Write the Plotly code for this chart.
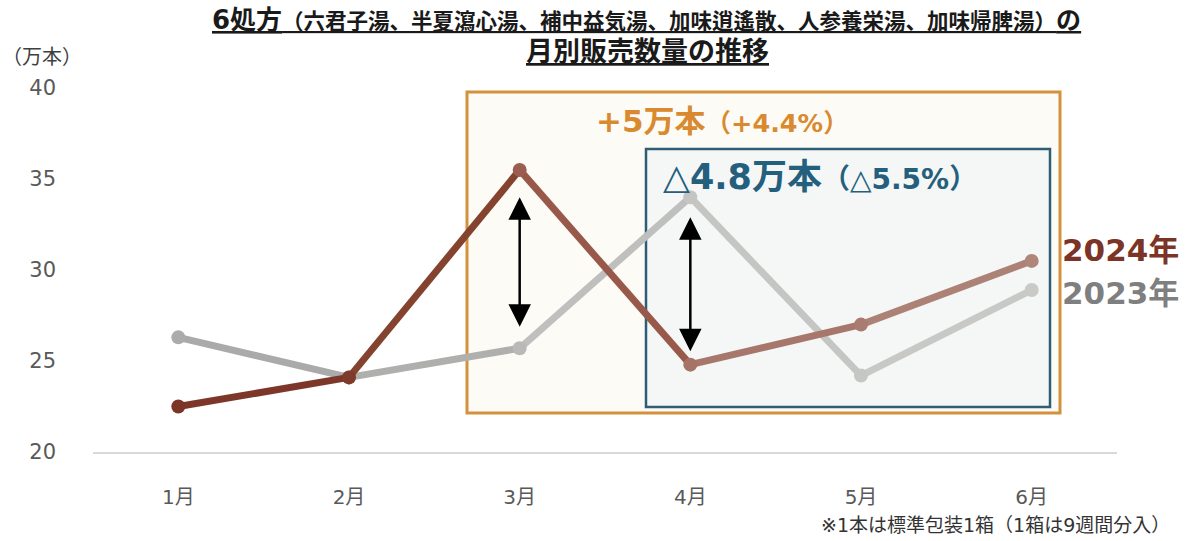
import plotly.graph_objects as go

months = ["1月", "2月", "3月", "4月", "5月", "6月"]
sales_2024 = [22.5, 24.1, 35.5, 24.8, 27.0, 30.5]
sales_2023 = [26.3, 24.1, 25.7, 34.0, 24.2, 28.9]
y_ticks = [20, 25, 30, 35, 40]

# colour shading along each series (darker on the left, lighter on the right)
col_2024_pts = ["#7B3426", "#7E3A2B", "#9A5D4F", "#A67367", "#AA7B70", "#B0867B"]
col_2024_seg = ["#7D3729", "#84432F", "#98594B", "#A7776B", "#AD8276"]
col_2023_pts = ["#ABABAB", "#A9A9A9", "#B9B9B7", "#C4C4C2", "#C6C6C4", "#C9C9C7"]
col_2023_seg = ["#AAAAAA", "#AFAFAE", "#BFBFBD", "#C5C5C3", "#C8C8C6"]

# arrow spans (data units) for the two year-on-year difference markers
arrow_idx = [2, 3]
arrow_top = [34.0, 32.9]
arrow_bot = [26.8, 25.45]

FONT = "DejaVu Sans, Noto Sans CJK JP, sans-serif"

L, R, T, B = 93, 1117, 88, 452
W, H = 1189, 541


def px(xp):
    return (xp - L) / (R - L)


def py(yp):
    return (B - yp) / (B - T)


def dx(xp):
    return (xp - L) / ((R - L) / 6.0) - 0.5


def dy(yp):
    return 20 + (B - yp) / ((B - T) / 20.0)


fig = go.Figure()

for name, vals, segc, ptc in [("2023年", sales_2023, col_2023_seg, col_2023_pts),
                               ("2024年", sales_2024, col_2024_seg, col_2024_pts)]:
    for i in range(len(months) - 1):
        fig.add_trace(go.Scatter(x=months[i:i + 2], y=vals[i:i + 2], mode="lines",
                                 line=dict(color=segc[i], width=7),
                                 showlegend=False, hoverinfo="skip", cliponaxis=False))
    fig.add_trace(go.Scatter(x=months, y=vals, mode="markers", name=name,
                             marker=dict(color=ptc, size=14),
                             showlegend=False, cliponaxis=False))

shapes = [
    dict(type="rect", xref="x", yref="y", x0=dx(467), x1=dx(1060), y0=dy(413), y1=dy(92),
         line=dict(color="#D4913D", width=3), fillcolor="#FDFBF6", layer="below"),
    dict(type="rect", xref="x", yref="y", x0=dx(646), x1=dx(1050), y0=dy(407), y1=dy(149),
         line=dict(color="#2F5E74", width=2.5), fillcolor="#F5F7F6", layer="below"),
]

annotations = []
for i, t, b in zip(arrow_idx, arrow_top, arrow_bot):
    annotations.append(dict(x=months[i], y=t, ax=months[i], ay=b, xref="x", yref="y",
                            axref="x", ayref="y", text="", showarrow=True,
                            arrowhead=2, arrowside="end+start", arrowsize=1.8,
                            arrowwidth=2.5, arrowcolor="#000000"))

annotations += [
    dict(xref="paper", yref="paper", x=px(646), y=py(20), xanchor="center", yanchor="middle",
         showarrow=False,
         text="<u><b><span style='font-size:26px'>6処方</span>"
              "<span style='font-size:21.5px'>（六君子湯、半夏瀉心湯、補中益気湯、加味逍遙散、人参養栄湯、加味帰脾湯）</span>"
              "<span style='font-size:25px'>の</span></b></u>",
         font=dict(family=FONT, color="#1a1a1a")),
    dict(xref="paper", yref="paper", x=px(647), y=py(52), xanchor="center", yanchor="middle",
         showarrow=False, text="<u><b>月別販売数量の推移</b></u>",
         font=dict(family=FONT, size=27, color="#1a1a1a")),
    dict(xref="paper", yref="paper", x=px(0), y=py(57), xanchor="left", yanchor="middle",
         showarrow=False, text="（万本）", font=dict(family=FONT, size=20, color="#404040")),
    dict(xref="paper", yref="paper", x=px(594), y=py(121), xanchor="left", yanchor="middle",
         showarrow=False,
         text="<b><span style='font-size:31px'>+5万本</span><span style='font-size:25.5px'>（+4.4%）</span></b>",
         font=dict(family=FONT, color="#D98A2E")),
    dict(xref="paper", yref="paper", x=px(661), y=py(177), xanchor="left", yanchor="middle",
         showarrow=False,
         text="<span style='font-size:35px'>△</span><b><span style='font-size:35px'>4.8万本</span>"
              "<span style='font-size:28px'>（</span></b><span style='font-size:28px'>△</span>"
              "<b><span style='font-size:28px'>5.5%）</span></b>",
         font=dict(family=FONT, color="#245F7D")),
    dict(xref="paper", yref="paper", x=px(1060), y=py(250), xanchor="left", yanchor="middle",
         showarrow=False, text="<b>2024年</b>", font=dict(family=FONT, size=31, color="#7B3426")),
    dict(xref="paper", yref="paper", x=px(1060), y=py(293), xanchor="left", yanchor="middle",
         showarrow=False, text="<b>2023年</b>", font=dict(family=FONT, size=31, color="#7F7F7F")),
    dict(xref="paper", yref="paper", x=px(1172), y=py(525), xanchor="right", yanchor="middle",
         showarrow=False, text="※1本は標準包装1箱（1箱は9週間分入）",
         font=dict(family=FONT, size=19, color="#333333")),
]

fig.update_layout(
    width=W, height=H,
    margin=dict(l=L, r=W - R, t=T, b=H - B),
    paper_bgcolor="white", plot_bgcolor="white",
    shapes=shapes, annotations=annotations,
    hovermode=False,
    xaxis=dict(type="category", categoryorder="array", categoryarray=months,
               range=[-0.5, 5.5], showgrid=False, zeroline=False,
               showline=True, linecolor="#D9D9D9", linewidth=1.5,
               ticks="", ticklabelstandoff=26,
               tickfont=dict(family=FONT, size=20, color="#595959")),
    yaxis=dict(range=[20, 40], tickvals=y_ticks, showgrid=False, zeroline=False,
               showline=False, ticks="", ticklabelstandoff=36,
               tickfont=dict(family=FONT, size=21, color="#595959")),
)

fig.write_html("out.html", config={"displayModeBar": False})
